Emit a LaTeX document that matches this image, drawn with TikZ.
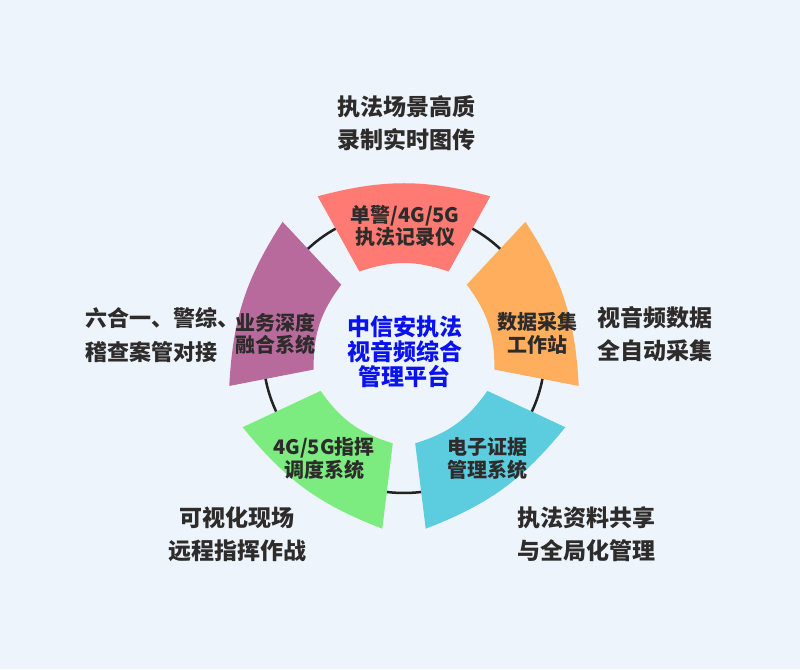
\documentclass[tikz,border=0pt]{standalone}
\usepackage{fontspec}
\setmainfont{Noto Sans CJK SC}
\usetikzlibrary{calc}
\definecolor{bg}{HTML}{EDF4FB}
\definecolor{ringc}{HTML}{222222}
\definecolor{txt}{HTML}{2E2B2B}
\definecolor{ctr}{HTML}{0A12F0}
\definecolor{sred}{HTML}{FF7A72}
\definecolor{sorange}{HTML}{FFAE5E}
\definecolor{scyan}{HTML}{5CCDDF}
\definecolor{sgreen}{HTML}{7DEC80}
\definecolor{spurple}{HTML}{B86A9D}
\newcommand\drawsector[2]{%
  \fill[#2] (#1+29:178) to[bend left=15] (#1-29:178) -- (#1-29:92) to[bend right=19] (#1+29:92) -- cycle;}
\begin{document}
\begin{tikzpicture}[x=1pt,y=1pt,
  lbl/.style={font=\fontsize{23}{33}\selectfont\bfseries, text=txt, align=center, inner sep=0pt},
  seclbl/.style={font=\fontsize{20}{22.5}\selectfont\bfseries, text=txt, align=center, inner sep=0pt},
  ctrlbl/.style={font=\fontsize{23}{25}\selectfont\bfseries, text=ctr, align=center, inner sep=0pt}]
\useasboundingbox (0,0) rectangle (800,669);
\fill[bg] (0,0) rectangle (800,669);
\coordinate (C) at (404,317);
\draw[ringc, line width=2.5pt] (C) circle[radius=141];
\begin{scope}[shift={(C)}]
  \drawsector{90}{sred}
  \drawsector{18}{sorange}
  \drawsector{-54}{scyan}
  \drawsector{-126}{sgreen}
  \drawsector{162}{spurple}
\end{scope}
% sector labels
\node[seclbl] (s1) at (405,443) {单警/4G/5G\\执法记录仪};
\node[seclbl] (s2) at (537.5,335.5) {数据采集\\工作站};
\node[seclbl] (s3) at (487.5,210.5) {电子证据\\管理系统};
\node[seclbl] (s4) at (324,210.5) {4G/5G指挥\\调度系统};
\node[seclbl] (s5) at (275.5,335) {业务深度\\融合系统};
% center
\node[ctrlbl] (ctr) at (404.5,317) {中信安执法\\视音频综合\\管理平台};
% outer labels
\node[lbl] (o1) at (406,545.5) {执法场景高质\\录制实时图传};
\node[lbl] (o2) at (655,335) {视音频数据\\全自动采集};
\node[lbl, font=\fontsize{22}{34}\selectfont\bfseries, align=left, anchor=west] (o5) at (85,334) {六合一、警综\makebox[0.35em][l]{、}\\稽查案管对接};
\node[lbl] (o4) at (237,135) {可视化现场\\远程指挥作战};
\node[lbl] (o3) at (586,135) {执法资料共享\\与全局化管理};
\end{tikzpicture}
\end{document}
